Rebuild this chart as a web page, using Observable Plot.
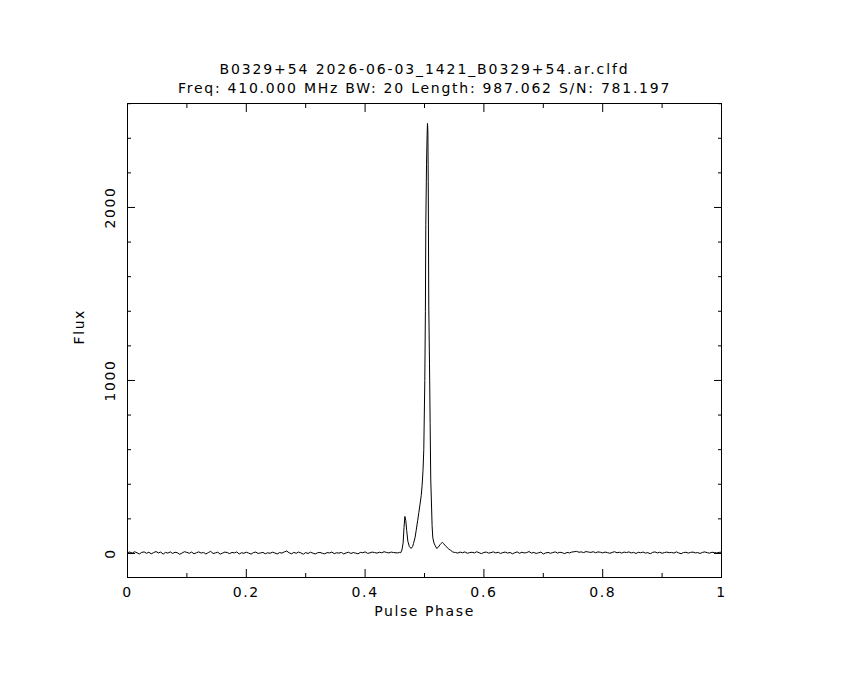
<!DOCTYPE html>
<html>
<head>
<meta charset="utf-8">
<script src="https://cdn.jsdelivr.net/npm/d3@7"></script>
<script src="https://cdn.jsdelivr.net/npm/@observablehq/plot@0.6"></script>
<style>
  html, body { margin: 0; padding: 0; background: #fff; }
  svg text { letter-spacing: 1.6px; }
</style>
</head>
<body>
<div id="chart"></div>
<script>
// ---- Titles ----
const titleLine1 = "B0329+54 2026-06-03_1421_B0329+54.ar.clfd";
const titleLine2 = "Freq: 410.000 MHz BW: 20 Length: 987.062 S/N: 781.197";
const xLabel = "Pulse Phase";
const yLabel = "Flux";

// ---- Axis ticks ----
const xTicks = [0, 0.2, 0.4, 0.6, 0.8, 1];
const xMinorTicks = [0.1, 0.3, 0.5, 0.7, 0.9];
const yTicks = [0, 1000, 2000];
const yMinorTicks = [200, 400, 600, 800, 1200, 1400, 1600, 1800, 2200, 2400, 2600];
const xDomain = [0, 1];
const yDomain = [-139, 2601];

// ---- Profile data ----
// off-pulse baseline, phase 0 .. 0.452, bin step 0.004
const baseLeftStart = 0, baseStep = 0.004;
const baseLeftFlux = [
  5, 8, 2, 10, 4, -3, 6, 9, 1, 7,
  -2, 5, 11, 3, 8, -4, 6, 2, 9, 0,
  7, 4, -5, 3, 10, 6, 1, 8, -2, 4,
  9, 2, 6, -3, 5, 12, 0, 3, 7, -4,
  2, 8, 5, -1, 6, 3, 9, -3, 4, 1,
  7, 2, -4, 5, 8, 0, 3, 6, -2, 4,
  1, 7, 3, -3, 5, 2, 9, 14, 4, -2,
  6, 1, 8, 3, -4, 5, 0, 7, 2, -3,
  4, 6, 1, -2, 5, 3, 8, -1, 4, 2,
  6, -3, 3, 7, 0, 5, 2, -2, 6, 4,
  9, 1, 3, 8, 5, 2, 7, 4, 10, 6,
  3, 8, 5, 4
];
// on-pulse region
const pulsePhase = [
  0.455, 0.458, 0.460, 0.462, 0.464, 0.4655, 0.467, 0.4685, 0.470, 0.472,
  0.4745, 0.4775, 0.480, 0.4815, 0.484, 0.486, 0.4885, 0.4905, 0.4925, 0.4945,
  0.4960, 0.4975, 0.4988, 0.5005, 0.5015, 0.5022, 0.5034, 0.5044, 0.5050, 0.5057,
  0.5063, 0.5072, 0.5084, 0.5095, 0.5105, 0.5118, 0.5128, 0.5140, 0.5160, 0.5180,
  0.5205, 0.5230, 0.5260, 0.5280, 0.5300, 0.5320, 0.5350, 0.5380, 0.5410, 0.5440,
  0.5470, 0.5500
];
const pulseFlux = [
  3, 6, 4, 20, 60, 150, 214, 190, 133, 70,
  40, 29, 40, 58, 90, 133, 190, 237, 285, 335,
  393, 480, 600, 1000, 1400, 1900, 2250, 2420, 2486, 2440,
  2150, 1430, 1100, 750, 430, 280, 160, 90, 60, 45,
  29, 35, 50, 58, 64, 58, 45, 35, 25, 18,
  10, 6
];
// off-pulse baseline, phase 0.552 .. 1.0, bin step 0.004
const baseRightStart = 0.552;
const baseRightFlux = [
  6, 2, 8, 4, 9, 1, 5, 7, 3, 10,
  4, -1, 6, 8, 2, 5, 9, 3, 7, 0,
  5, 8, 2, 6, -2, 4, 9, 1, 7, 3,
  5, 11, 2, 6, 0, 4, 8, -3, 3, 6,
  1, 5, 9, 2, 7, 4, -1, 6, 3, 8,
  10, 12, 7, 9, 5, 11, 8, 6, 10, 4,
  9, 7, 3, 8, 5, 1, 6, 10, 4, 7,
  2, 8, 5, 9, 3, 6, 0, 7, 4, 8,
  2, 5, -2, 6, 9, 3, 7, 1, 5, 8,
  4, 6, 2, 9, 3, -1, 5, 7, 2, 6,
  8, 3, 5, 0, 6, 9, 4, 2, 7, 5,
  3, 6, 8
];

// ---- Build table ----
const profile = [];
baseLeftFlux.forEach((f, i) => profile.push({phase: baseLeftStart + i * baseStep, flux: f}));
pulsePhase.forEach((p, i) => profile.push({phase: p, flux: pulseFlux[i]}));
baseRightFlux.forEach((f, i) => profile.push({phase: Math.min(1, baseRightStart + i * baseStep), flux: f}));

const fmt = d => String(d);

const chart = Plot.plot({
  width: 850,
  height: 680,
  marginTop: 103,
  marginBottom: 103,
  marginLeft: 127,
  marginRight: 129,
  style: {fontFamily: "'DejaVu Sans', sans-serif", fontSize: "14px", background: "#fff", color: "#000"},
  x: {domain: xDomain},
  y: {domain: yDomain},
  marks: [
    Plot.frame({stroke: "#000"}),
    // bottom axis
    Plot.axisX(xTicks, {anchor: "bottom", tickSize: -8, tickPadding: 18, tickFormat: fmt, label: null}),
    Plot.axisX(xMinorTicks, {anchor: "bottom", tickSize: -4, fill: "none", label: null}),
    // top axis
    Plot.axisX(xTicks, {anchor: "top", tickSize: -8, fill: "none", label: null}),
    Plot.axisX(xMinorTicks, {anchor: "top", tickSize: -4, fill: "none", label: null}),
    // left axis: ticks and (rotated) labels drawn separately
    Plot.axisY(yTicks, {anchor: "left", tickSize: -8, fill: "none", label: null}),
    Plot.axisY(yTicks, {anchor: "left", tickSize: 0, tickPadding: 17, tickFormat: fmt, rotate: -90, textAnchor: "middle", lineAnchor: "middle", label: null}),
    Plot.axisY(yMinorTicks, {anchor: "left", tickSize: -4, fill: "none", label: null}),
    // right axis
    Plot.axisY(yTicks, {anchor: "right", tickSize: -8, fill: "none", label: null}),
    Plot.axisY(yMinorTicks, {anchor: "right", tickSize: -4, fill: "none", label: null}),
    // profile
    Plot.line(profile, {x: "phase", y: "flux", stroke: "#000", strokeWidth: 1}),
    // titles and labels
    Plot.text([titleLine1], {text: d => d, frameAnchor: "top", dy: -30, lineAnchor: "bottom", fill: "#000"}),
    Plot.text([titleLine2], {text: d => d, frameAnchor: "top", dy: -11, lineAnchor: "bottom", fill: "#000"}),
    Plot.text([xLabel], {text: d => d, frameAnchor: "bottom", dy: 38, lineAnchor: "bottom", fill: "#000"}),
    Plot.text([yLabel], {text: d => d, frameAnchor: "left", dx: -48, dy: 4, rotate: -90, lineAnchor: "middle", fill: "#000"})
  ]
});
// slightly wider Hershey-like spacing for the two title lines
d3.select(chart).selectAll("text")
  .filter(function() { return this.textContent === titleLine1; })
  .style("letter-spacing", "1.9px");
d3.select(chart).selectAll("text")
  .filter(function() { return this.textContent === titleLine2; })
  .style("letter-spacing", "1.75px");
document.getElementById("chart").appendChild(chart);
</script>
</body>
</html>
